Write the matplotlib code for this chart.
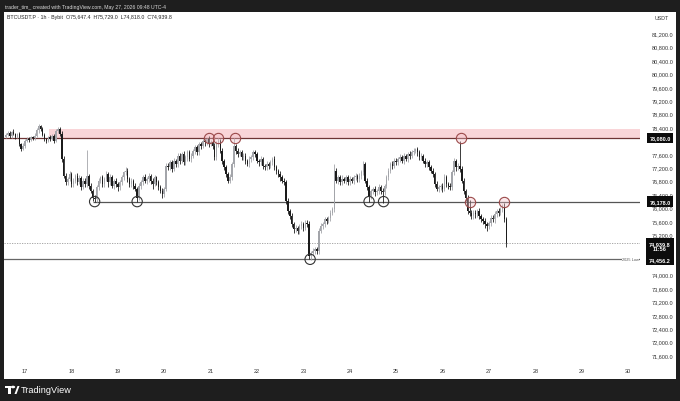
import matplotlib
matplotlib.use('Agg')
import matplotlib.pyplot as plt
import matplotlib.transforms as mtransforms
from matplotlib.patches import Rectangle, Polygon, Circle
import numpy as np
import pandas as pd

plt.rcParams['font.family'] = ['Liberation Sans', 'DejaVu Sans']

# hourly BTCUSDT.P closes, 2026-05-16 14:00 .. 2026-05-27 09:00
closes = [
    78180, 78230, 78150, 78260, 78200, 78120, 78190, 77900, 77760, 77850,
    78000, 78060, 78020, 78100, 78080, 78150, 78300, 78420, 78350, 78180,
    78050, 78000, 78100, 78060, 78150, 78000, 78280, 78350, 78200, 77450,
    76950, 76750, 76850, 77000, 76700, 76800, 76950, 76750, 76880, 76620,
    76800, 76700, 76950, 76650, 76500, 76300, 76250, 76600, 76800, 76900,
    76700, 76850, 77000, 76750, 76900, 76650, 76800, 76700, 76600, 76750,
    76900, 77050, 77100, 76850, 76700, 76800, 76650, 76550, 76300, 76650,
    76750, 76900, 76800, 76850, 76950, 76800, 76700, 76900, 76750, 76600,
    76500, 76400, 76550, 77250, 77200, 77350, 77150, 77400, 77300, 77550,
    77400, 77600, 77350, 77500, 77650, 77450, 77550, 77700, 77800, 77650,
    77900, 77850, 78000, 77950, 78050, 77900, 77950, 77850, 77500, 77900,
    78000, 77700, 77400, 77200, 77000, 76800, 76900, 77300, 77850, 77700,
    77600, 77650, 77500, 77550, 77400, 77300, 77450, 77500, 77650, 77600,
    77400, 77350, 77450, 77250, 77200, 77300, 77250, 77350, 77450, 77200,
    77100, 77000, 76900, 76800, 76750, 76200, 75900, 75750, 75500, 75350,
    75400, 75300, 75450, 75500, 75400, 75550, 75500, 74550, 74650, 74700,
    74750, 74700, 75300, 75450, 75500, 75650, 75600, 75700, 75850, 75950,
    77100, 76800, 76900, 76750, 76850, 76800, 76900, 76750, 76850, 76800,
    76900, 76950, 76850, 76950, 77050, 77300, 76800, 76600, 76350, 76500,
    76550, 76450, 76500, 76600, 76500, 76450, 76650, 76900, 77100, 77300,
    77250, 77400, 77350, 77450, 77500, 77400, 77550, 77450, 77600, 77550,
    77650, 77700, 77750, 77650, 77500, 77550, 77400, 77300, 77350, 77200,
    77100, 77000, 76700, 76550, 76600, 76650, 76550, 76900, 76700, 76650,
    76600, 77050, 77400, 77200, 77250, 77150, 76800, 76500, 76300, 75900,
    75850, 75750, 75850, 75800, 75900, 75750, 75650, 75600, 75500, 75450,
    75550, 75700, 75650, 75800, 75900, 75850, 75950, 76000, 75647.4, 74939.8,
]
first_open = 78120
wick_up = [
    40, 60, 50, 30, 70, 40, 50, 60, 40, 80,
    50, 40, 60, 50, 40, 70, 60, 70, 40, 50,
    60, 40, 50, 70, 40, 60, 50, 40, 60, 80,
    90, 70, 60, 80, 50, 90, 60, 70, 80, 60,
    90, 70, 770, 60, 80, 50, 70, 60, 90, 50,
    70, 60, 80, 50, 90, 70, 60, 80, 50, 70,
    60, 50, 110, 70, 60, 80, 50, 70, 60, 80,
    70, 60, 90, 50, 70, 60, 80, 60, 50, 70,
    60, 80, 70, 90, 80, 60, 70, 80, 60, 70,
    80, 60, 90, 70, 60, 80, 70, 60, 70, 80,
    60, 70, 50, 60, 30, 80, 70, 60, 90, 80,
    80, 60, 70, 50, 80, 60, 90, 70, 230, 60,
    70, 80, 60, 90, 70, 60, 80, 70, 60, 80,
    70, 60, 80, 70, 60, 90, 70, 60, 50, 80,
    70, 60, 80, 60, 90, 70, 80, 60, 90, 70,
    80, 60, 70, 90, 60, 80, 70, 90, 60, 80,
    70, 60, 80, 90, 60, 70, 80, 60, 90, 70,
    200, 90, 80, 70, 110, 60, 80, 70, 90, 60,
    80, 70, 60, 90, 70, 80, 60, 70, 80, 60,
    70, 80, 60, 90, 70, 80, 60, 70, 80, 60,
    90, 70, 80, 60, 90, 70, 80, 60, 70, 80,
    70, 80, 30, 60, 70, 80, 60, 90, 70, 60,
    80, 70, 60, 90, 70, 60, 80, 110, 70, 60,
    80, 70, 90, 60, 80, 750, 80, 70, 60, 90,
    330, 80, 70, 90, 60, 80, 70, 60, 80, 70,
    60, 80, 70, 90, 60, 80, 70, 100, 150, 81.6,
]
wick_dn = [
    50, 40, 60, 70, 40, 60, 50, 70, 60, 40,
    60, 50, 70, 40, 60, 50, 40, 60, 70, 50,
    60, 70, 50, 60, 40, 70, 50, 60, 50, 90,
    80, 90, 70, 60, 100, 80, 70, 90, 60, 110,
    70, 90, 80, 100, 70, 90, 80, 90, 70, 60,
    100, 80, 70, 150, 90, 70, 100, 80, 110, 70,
    80, 90, 70, 100, 80, 90, 110, 70, 130, 60,
    90, 80, 70, 100, 80, 90, 150, 70, 80, 90,
    70, 100, 80, 60, 90, 80, 100, 70, 90, 80,
    100, 70, 90, 80, 100, 70, 90, 80, 100, 70,
    80, 90, 70, 100, 80, 90, 70, 100, 80, 70,
    90, 80, 100, 70, 90, 80, 70, 90, 80, 100,
    80, 70, 90, 80, 100, 70, 90, 80, 70, 90,
    80, 100, 70, 90, 80, 70, 100, 80, 90, 70,
    90, 80, 100, 70, 90, 80, 100, 90, 80, 100,
    90, 100, 80, 90, 100, 80, 90, 94, 100, 80,
    90, 100, 80, 70, 90, 80, 100, 70, 90, 80,
    90, 80, 100, 70, 90, 80, 100, 90, 70, 80,
    90, 70, 100, 80, 90, 70, 80, 90, 180, 80,
    90, 100, 70, 80, 90, 300, 80, 70, 90, 80,
    100, 80, 90, 70, 100, 80, 90, 70, 80, 100,
    80, 90, 70, 100, 80, 90, 70, 80, 100, 90,
    80, 100, 90, 70, 100, 80, 90, 70, 80, 100,
    80, 90, 70, 100, 80, 90, 80, 100, 90, 80,
    100, 90, 80, 110, 90, 100, 80, 90, 100, 150,
    80, 90, 70, 100, 80, 90, 70, 80, 90, 121.8,
]

start = pd.Timestamp('2026-05-16 14:00')
day_labels = ['17', '18', '19', '20', '21', '22', '23', '24', '25', '26', '27', '28', '29', '30']
price_ticks = [71600, 72000, 72400, 72800, 73200, 73600, 74000, 74400, 74800, 75200, 75600,
               76000, 76400, 76800, 77200, 77600, 78000, 78400, 78800, 79200, 79600, 80000,
               80400, 80800, 81200]

resistance = 78080.0
zone_top = 78340.0
support = 76178.0
low_2025 = 74456.2
last_price = 74939.8

# circle marks: (hours from start, price)
res_circle_t = [105, 110, 118.5, 235.5, 240, 258]
res_circle_p = [78080, 78080, 78080, 78080, 76178, 76178]
sup_circle_t = [46, 68, 157.5, 188, 195.5]
sup_circle_p = [76178, 76178, 74456.2, 76178, 76178]

W, H = 680, 402
fig = plt.figure(figsize=(W / 100, H / 100), dpi=100, facecolor='#1e1e1e')

def fx(px):
    return px / W

def fy(py):
    return 1 - py / H

# white panel behind everything
fig.patches.append(Rectangle((fx(4), fy(380)), fx(672), (380 - 13) / H, transform=fig.transFigure,
                             facecolor='white', edgecolor='none', zorder=-10))

ax = fig.add_axes([fx(4), fy(363), fx(636), (363 - 13) / H])
ax.set_zorder(1)
ax.set_facecolor('white')
for s in ax.spines.values():
    s.set_visible(False)

c = np.array(closes, dtype=float)
o = np.concatenate([[first_open], c[:-1]])
hi = np.maximum(o, c) + np.array(wick_up)
lo = np.minimum(o, c) - np.array(wick_dn)
x = np.arange(len(c))
up = c >= o

up_col = '#a3a5aa'
dn_col = '#1b1b1b'
ax.vlines(x[up], lo[up], hi[up], color=up_col, lw=0.6, zorder=3)
ax.vlines(x[~up], lo[~up], hi[~up], color=dn_col, lw=0.6, zorder=3)
body = np.maximum(np.abs(c - o), 8)
ax.bar(x[up], body[up], bottom=np.minimum(o, c)[up], width=0.75, color=up_col, zorder=4, linewidth=0)
ax.bar(x[~up], body[~up], bottom=np.minimum(o, c)[~up], width=0.75, color=dn_col, zorder=4, linewidth=0)

xmax = 328.2
ax.set_xlim(-0.9, xmax)
ax.set_ylim(71392, 81836)

# zones and lines
ax.add_patch(Rectangle((22.5, resistance), xmax - 22.5, zone_top - resistance,
                       facecolor='#f9d5d8', edgecolor='none', zorder=1))
ax.axhline(resistance, color='#6e3434', lw=0.9, zorder=2)
ax.hlines(support, 45, xmax, color='#555555', lw=0.9, zorder=2)
ax.axhline(low_2025, color='#666666', lw=0.9, zorder=2)
ax.axhline(last_price, color='#9a9a9a', lw=0.6, ls=(0, (1.5, 1.5)), zorder=2)

ax.scatter(res_circle_t, res_circle_p, s=55, facecolors=(0.96, 0.75, 0.78, 0.35),
           edgecolors='#9b4a4a', linewidths=0.8, zorder=6)
ax.scatter(sup_circle_t, sup_circle_p, s=55, facecolors='none',
           edgecolors='#333333', linewidths=0.8, zorder=6)

# axes ticks
day_pos = [(pd.Timestamp('2026-05-' + d) - start) / pd.Timedelta(hours=1) for d in day_labels]
ax.set_xticks(day_pos)
ax.set_xticklabels(day_labels)
ax.tick_params(axis='x', length=0, pad=4, labelsize=4, labelcolor='#333333')
ax.yaxis.tick_right()
ax.set_yticks(price_ticks)
ax.set_yticklabels([f'{p:,.1f}' for p in price_ticks])
ax.tick_params(axis='y', length=0, pad=8.5, labelsize=4, labelcolor='#333333')

# price labels on the scale (the tick labels they cover are hidden)
tr = mtransforms.blended_transform_factory(ax.transAxes, ax.transData)
box = dict(boxstyle='square,pad=0.5', facecolor='#0c0c0c', edgecolor='none')
hidden = [resistance, support, low_2025, last_price]
for lab in ax.get_yticklabels():
    v = float(lab.get_text().replace(',', ''))
    if any(abs(v - h) < 140 for h in hidden):
        lab.set_visible(False)
xl = 1.0315
for p in [resistance, support, low_2025]:
    ax.text(xl, p, f'{p:,.1f}', transform=tr, ha='center', va='center', fontsize=4,
            color='white', fontweight='bold', bbox=box, clip_on=False, zorder=10)
ax.text(xl, last_price + 60, f'{last_price:,.1f}\n11:56', transform=tr, ha='center', va='top',
        fontsize=4, color='white', fontweight='bold', linespacing=1.1,
        bbox=box, clip_on=False, zorder=10)
ax.text(0.998, low_2025, '2025 Low', transform=tr, ha='right', va='center', fontsize=2.8,
        color='#555555', zorder=10, bbox=dict(facecolor='white', edgecolor='none', pad=0.3))

fig.text(fx(662), fy(18), 'USDT', fontsize=3.8, color='#333333', ha='center', va='center')

# header lines
fig.text(fx(5), fy(7), 'trader_tim_ created with TradingView.com, May 27, 2026 09:48 UTC-4',
         fontsize=3.7, color='#d8d8d8', va='center')
fig.text(fx(7), fy(17.5), 'BTCUSDT.P \u00b7 1h \u00b7 Bybit  O75,647.4  H75,729.0  L74,818.0  C74,939.8',
         fontsize=3.8, color='#222222', va='center')

# TradingView logo
fig.patches.append(Rectangle((fx(5), fy(389)), fx(6), 2.2 / H, transform=fig.transFigure,
                             facecolor='white', edgecolor='none'))
fig.patches.append(Rectangle((fx(8), fy(395)), fx(2.6), 6 / H, transform=fig.transFigure,
                             facecolor='white', edgecolor='none'))
fig.patches.append(Circle((fx(13), fy(388)), 1.3 / H, transform=fig.transFigure,
                          facecolor='white', edgecolor='none'))
fig.patches.append(Polygon([(fx(14.5), fy(395)), (fx(17.5), fy(387)), (fx(19.5), fy(387)), (fx(16.5), fy(395))],
                           closed=True, transform=fig.transFigure, facecolor='white', edgecolor='none'))
fig.text(fx(21), fy(391), 'TradingView', fontsize=6.6, color='white', va='center')

fig.savefig('out.png', dpi=100, facecolor=fig.get_facecolor())
